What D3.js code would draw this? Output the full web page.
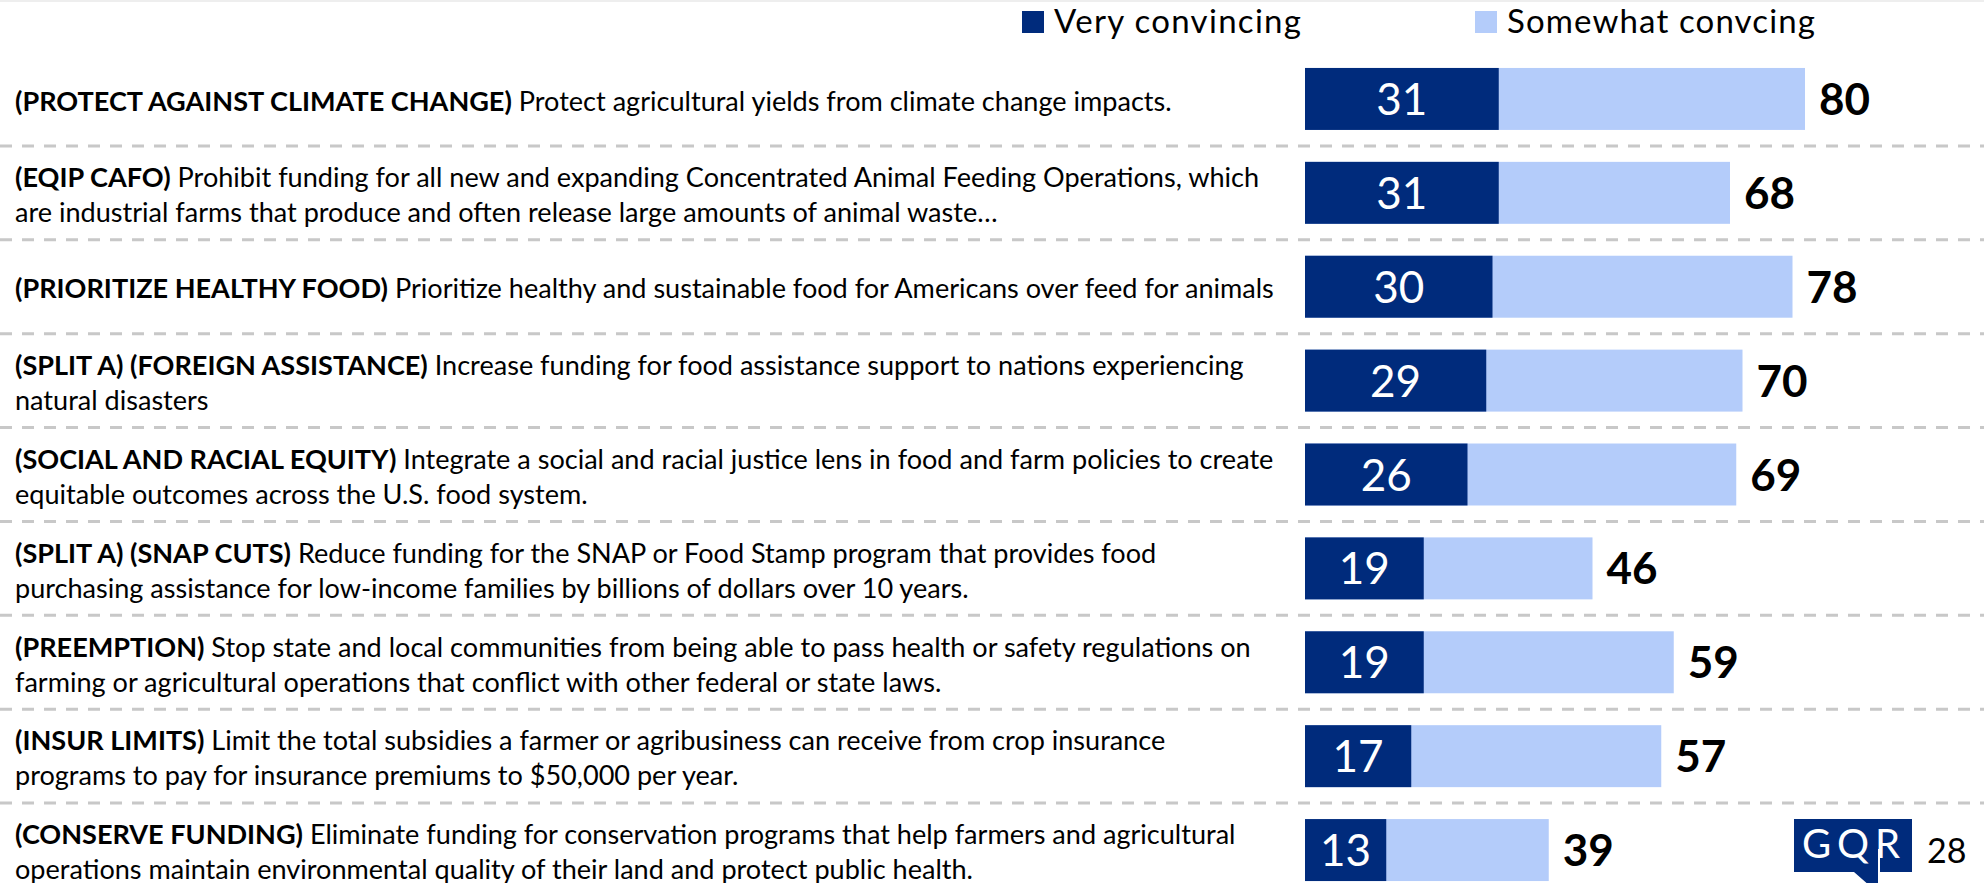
<!DOCTYPE html>
<html>
<head>
<meta charset="utf-8">
<script src="https://cdn.jsdelivr.net/npm/d3@7"></script>
<style>
  html, body { margin: 0; padding: 0; background: #fff; }
  svg { display: block; }
</style>
</head>
<body>
<div id="chart"></div>
<script>
// message test results, % convincing
const tags = [
  '(PROTECT AGAINST CLIMATE CHANGE)',
  '(EQIP CAFO)',
  '(PRIORITIZE HEALTHY FOOD)',
  '(SPLIT A) (FOREIGN ASSISTANCE)',
  '(SOCIAL AND RACIAL EQUITY)',
  '(SPLIT A) (SNAP CUTS)',
  '(PREEMPTION)',
  '(INSUR LIMITS)',
  '(CONSERVE FUNDING)',
]
const descLines = [
  [' Protect agricultural yields from climate change impacts.'],
  [' Prohibit funding for all new and expanding Concentrated Animal Feeding Operations, which',
    'are industrial farms that produce and often release large amounts of animal waste…'],
  [' Prioritize healthy and sustainable food for Americans over feed for animals'],
  [' Increase funding for food assistance support to nations experiencing', 'natural disasters'],
  [' Integrate a social and racial justice lens in food and farm policies to create',
    'equitable outcomes across the U.S. food system.'],
  [' Reduce funding for the SNAP or Food Stamp program that provides food',
    'purchasing assistance for low-income families by billions of dollars over 10 years.'],
  [' Stop state and local communities from being able to pass health or safety regulations on',
    'farming or agricultural operations that conflict with other federal or state laws.'],
  [' Limit the total subsidies a farmer or agribusiness can receive from crop insurance',
    'programs to pay for insurance premiums to $50,000 per year.'],
  [' Eliminate funding for conservation programs that help farmers and agricultural',
    'operations maintain environmental quality of their land and protect public health.'],
]
const veryConvincing = [31, 31, 30, 29, 26, 19, 19, 17, 13]
const totalConvincing = [80, 68, 78, 70, 69, 46, 59, 57, 39]
const seriesNames = ['Very convincing', 'Somewhat convcing']
const pageNumber = '28'

const width = 1984
const height = 883
const darkBlue = '#002b7c'
const lightBlue = '#b4ccfa'
const font = 'Lato, "Open Sans", sans-serif'

const svg = d3.select('#chart')
  .append('svg')
  .attr('width', width)
  .attr('height', height)
  .attr('viewBox', `0 0 ${width} ${height}`)
  .style('font-family', font)

svg.append('line')
  .attr('x1', 0).attr('x2', width)
  .attr('y1', 1).attr('y2', 1)
  .attr('stroke', '#eeeeee')
  .attr('stroke-width', 2)

const x = d3.scaleLinear().domain([0, 80]).range([1305, 1805])
const y = d3.scaleBand()
  .domain(d3.range(tags.length))
  .range([52, 897])
  .paddingInner(0.34)
  .paddingOuter(0.17)
const step = y.step()

// dashed separators between rows
svg.append('g')
  .selectAll('line')
  .data(d3.range(tags.length - 1))
  .join('line')
  .attr('x1', 0).attr('x2', width)
  .attr('y1', i => 52 + (i + 1) * step)
  .attr('y2', i => 52 + (i + 1) * step)
  .attr('stroke', '#c8c8c8')
  .attr('stroke-width', 3)
  .attr('stroke-dasharray', '12 10')

const rows = svg.append('g')
  .selectAll('g')
  .data(d3.range(tags.length))
  .join('g')

rows.append('rect')
  .attr('x', x(0))
  .attr('y', i => y(i))
  .attr('width', i => x(totalConvincing[i]) - x(0))
  .attr('height', y.bandwidth())
  .attr('fill', lightBlue)

rows.append('rect')
  .attr('x', x(0))
  .attr('y', i => y(i))
  .attr('width', i => x(veryConvincing[i]) - x(0))
  .attr('height', y.bandwidth())
  .attr('fill', darkBlue)

rows.append('text')
  .attr('x', i => (x(0) + x(veryConvincing[i])) / 2)
  .attr('y', i => y(i) + y.bandwidth() / 2 + 16)
  .attr('text-anchor', 'middle')
  .attr('fill', '#fff')
  .attr('font-size', 44)
  .text(i => veryConvincing[i])

rows.append('text')
  .attr('x', i => x(totalConvincing[i]) + 14)
  .attr('y', i => y(i) + y.bandwidth() / 2 + 16)
  .attr('fill', '#000')
  .attr('font-size', 44)
  .attr('font-weight', 'bold')
  .text(i => totalConvincing[i])

// row labels: bold tag + regular description, sized to the reference width
const labelSize = 28
const labels = rows.append('text')
  .attr('x', 15)
  .attr('font-size', labelSize)
  .attr('fill', '#000')

labels.each(function (i) {
  const t = d3.select(this)
  const lines = descLines[i]
  t.append('tspan').attr('font-weight', 'bold').text(tags[i])
  t.append('tspan').text(lines[0])
  lines.slice(1).forEach(l => {
    t.append('tspan').attr('x', 15).attr('dy', 35).text(l)
  })
})

// fit label font size to the measured reference width of the first line
const firstW = labels.filter(i => i === 0).node().getComputedTextLength()
const fitSize = labelSize * 1157 / firstW
labels.attr('font-size', fitSize)
labels.each(function (i) {
  const lines = descLines[i]
  const cy = y(i) + y.bandwidth() / 2 + 2
  const top = cy - (lines.length - 1) * 35 / 2
  d3.select(this).attr('y', top + fitSize * 0.36)
})

// legend
const legend = svg.append('g')
const legendX = [1022, 1475]
const legendW = [247, 308]
seriesNames.forEach((name, k) => {
  legend.append('rect')
    .attr('x', legendX[k]).attr('y', 11)
    .attr('width', 22).attr('height', 22)
    .attr('fill', k === 0 ? darkBlue : lightBlue)
  legend.append('text')
    .attr('x', legendX[k] + 32).attr('y', 33)
    .attr('font-size', 33)
    .attr('textLength', legendW[k])
    .attr('lengthAdjust', 'spacing')
    .text(name)
})

// GQR logo + page number
const logo = svg.append('g')
logo.append('path')
  .attr('d', 'M1794,819 H1912 V872 H1878 V893 L1854,872 H1794 Z')
  .attr('fill', darkBlue)
logo.append('line')
  .attr('x1', 1879).attr('x2', 1879)
  .attr('y1', 849).attr('y2', 883)
  .attr('stroke', '#fff').attr('stroke-width', 2)
logo.append('text')
  .attr('x', 1802).attr('y', 858)
  .attr('font-size', 40)
  .attr('fill', '#fff')
  .attr('textLength', 98)
  .attr('lengthAdjust', 'spacing')
  .text('GQR')
svg.append('text')
  .attr('x', 1927).attr('y', 863)
  .attr('font-size', 34)
  .attr('fill', '#000')
  .text(pageNumber)
</script>
</body>
</html>
